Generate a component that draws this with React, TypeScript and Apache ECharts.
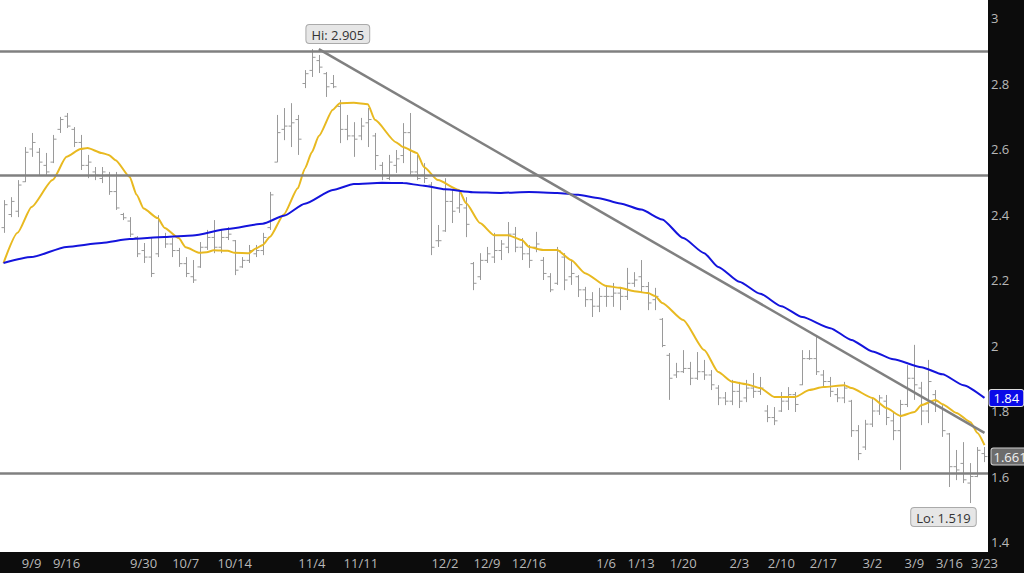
import React, { useEffect, useRef } from 'react';
import * as echarts from 'echarts';

// OHLC bars (one per trading day)
const opens = [
  2.36, 2.40, 2.41, 2.50, 2.60, 2.59, 2.55, 2.56, 2.66, 2.70,
  2.66, 2.62, 2.55, 2.53, 2.51, 2.52, 2.47, 2.40, 2.38, 2.33,
  2.29, 2.27, 2.28, 2.33, 2.31, 2.29, 2.25, 2.21, 2.24, 2.30,
  2.33, 2.30, 2.33, 2.32, 2.24, 2.26, 2.28, 2.29, 2.36, 2.56,
  2.66, 2.67, 2.69, 2.80, 2.84, 2.87, 2.83, 2.80, 2.73, 2.66,
  2.64, 2.64, 2.68, 2.64, 2.55, 2.51, 2.55, 2.58, 2.65, 2.53,
  2.52, 2.49, 2.32, 2.35, 2.44, 2.42, 2.42, 2.25, 2.21, 2.26,
  2.27, 2.29, 2.30, 2.34, 2.30, 2.28, 2.30, 2.26, 2.21, 2.19,
  2.27, 2.21, 2.21, 2.17, 2.14, 2.12, 2.15, 2.15, 2.16, 2.15,
  2.19, 2.21, 2.18, 2.14, 2.08, 1.97, 1.91, 1.92, 1.93, 1.90,
  1.92, 1.91, 1.87, 1.84, 1.83, 1.86, 1.84, 1.87, 1.86, 1.80,
  1.78, 1.80, 1.83, 1.85, 1.88, 1.96, 1.96, 1.91, 1.89, 1.85,
  1.84, 1.83, 1.74, 1.69, 1.76, 1.80, 1.83, 1.77, 1.74, 1.82,
  1.90, 1.87, 1.80, 1.85, 1.81, 1.73, 1.63, 1.64, 1.58, 1.60, 1.67,
];
const closes = [
  2.43, 2.44, 2.49, 2.59, 2.62, 2.56, 2.53, 2.63, 2.69, 2.67,
  2.62, 2.55, 2.56, 2.52, 2.53, 2.47, 2.42, 2.39, 2.34, 2.28,
  2.27, 2.22, 2.33, 2.31, 2.29, 2.25, 2.22, 2.20, 2.30, 2.33,
  2.30, 2.33, 2.34, 2.23, 2.26, 2.29, 2.29, 2.33, 2.46, 2.65,
  2.67, 2.68, 2.63, 2.83, 2.88, 2.85, 2.79, 2.79, 2.66, 2.64,
  2.63, 2.67, 2.69, 2.58, 2.52, 2.56, 2.57, 2.65, 2.53, 2.51,
  2.51, 2.30, 2.32, 2.44, 2.41, 2.43, 2.37, 2.19, 2.26, 2.28,
  2.29, 2.31, 2.34, 2.30, 2.28, 2.26, 2.31, 2.22, 2.17, 2.29,
  2.20, 2.22, 2.17, 2.14, 2.12, 2.15, 2.15, 2.16, 2.15, 2.19,
  2.20, 2.18, 2.13, 2.15, 2.00, 1.90, 1.92, 1.93, 1.90, 1.92,
  1.91, 1.88, 1.84, 1.83, 1.86, 1.83, 1.87, 1.86, 1.87, 1.78,
  1.77, 1.83, 1.85, 1.82, 1.96, 1.96, 1.92, 1.89, 1.86, 1.84,
  1.87, 1.74, 1.67, 1.76, 1.80, 1.84, 1.78, 1.74, 1.82, 1.90,
  1.88, 1.80, 1.89, 1.83, 1.74, 1.63, 1.62, 1.59, 1.60, 1.68, 1.661,
];
const lows = [
  2.344, 2.392, 2.392, 2.499, 2.576, 2.521, 2.521, 2.557, 2.649, 2.664,
  2.606, 2.536, 2.511, 2.505, 2.496, 2.460, 2.414, 2.383, 2.331, 2.270,
  2.252, 2.209, 2.270, 2.298, 2.270, 2.240, 2.209, 2.191, 2.237, 2.292,
  2.282, 2.282, 2.322, 2.215, 2.237, 2.252, 2.270, 2.276, 2.353, 2.560,
  2.627, 2.606, 2.582, 2.786, 2.820, 2.832, 2.759, 2.786, 2.618, 2.627,
  2.576, 2.627, 2.606, 2.536, 2.505, 2.505, 2.527, 2.557, 2.521, 2.505,
  2.496, 2.276, 2.301, 2.347, 2.374, 2.405, 2.331, 2.169, 2.200, 2.252,
  2.252, 2.261, 2.282, 2.285, 2.261, 2.237, 2.285, 2.200, 2.163, 2.185,
  2.169, 2.185, 2.148, 2.118, 2.087, 2.102, 2.118, 2.118, 2.108, 2.139,
  2.179, 2.160, 2.108, 2.108, 1.995, 1.834, 1.901, 1.916, 1.879, 1.895,
  1.895, 1.864, 1.818, 1.818, 1.818, 1.809, 1.827, 1.840, 1.849, 1.766,
  1.757, 1.797, 1.803, 1.797, 1.879, 1.956, 1.910, 1.873, 1.843, 1.827,
  1.824, 1.721, 1.650, 1.681, 1.751, 1.788, 1.757, 1.711, 1.620, 1.812,
  1.834, 1.757, 1.763, 1.797, 1.721, 1.568, 1.589, 1.580, 1.519, 1.598, 1.644,
];
const highs = [
  2.444, 2.453, 2.505, 2.606, 2.649, 2.603, 2.588, 2.643, 2.698, 2.710,
  2.667, 2.643, 2.582, 2.545, 2.545, 2.530, 2.530, 2.405, 2.392, 2.334,
  2.313, 2.328, 2.398, 2.344, 2.328, 2.298, 2.270, 2.261, 2.316, 2.353,
  2.383, 2.353, 2.362, 2.322, 2.270, 2.307, 2.307, 2.344, 2.469, 2.704,
  2.725, 2.740, 2.704, 2.841, 2.905, 2.887, 2.835, 2.826, 2.750, 2.704,
  2.682, 2.695, 2.725, 2.649, 2.560, 2.582, 2.597, 2.679, 2.710, 2.582,
  2.557, 2.499, 2.368, 2.511, 2.475, 2.469, 2.453, 2.255, 2.282, 2.301,
  2.344, 2.322, 2.377, 2.362, 2.328, 2.307, 2.347, 2.270, 2.221, 2.301,
  2.282, 2.261, 2.215, 2.179, 2.163, 2.176, 2.185, 2.191, 2.179, 2.237,
  2.224, 2.261, 2.194, 2.176, 2.084, 1.977, 1.947, 1.986, 1.950, 1.980,
  1.956, 1.925, 1.879, 1.858, 1.895, 1.889, 1.895, 1.916, 1.904, 1.818,
  1.812, 1.858, 1.873, 1.858, 1.986, 1.986, 2.026, 1.925, 1.904, 1.870,
  1.889, 1.834, 1.757, 1.773, 1.840, 1.849, 1.849, 1.797, 1.834, 1.940,
  2.002, 1.889, 1.956, 1.864, 1.818, 1.733, 1.681, 1.705, 1.641, 1.690, 1.690,
];

// moving averages: [bar index, value]
const maFast: [number, number][] = [
  [0, 2.252], [2, 2.344], [4, 2.423], [7, 2.505], [9, 2.576], [11, 2.6], [12, 2.603],
  [14, 2.588], [15, 2.582], [16, 2.566], [18, 2.515], [19, 2.46], [20, 2.418], [22, 2.389],
  [23, 2.359], [25, 2.328], [26, 2.3], [28, 2.283], [29, 2.285], [30, 2.291], [32, 2.289],
  [33, 2.283], [35, 2.282], [36, 2.296], [37, 2.307], [38, 2.331], [40, 2.4], [42, 2.48],
  [43, 2.54], [44, 2.59], [45, 2.64], [47, 2.72], [48, 2.74], [50, 2.741], [52, 2.737],
  [53, 2.689], [56, 2.621], [57, 2.606], [59, 2.588], [60, 2.545], [62, 2.505], [65, 2.475],
  [66, 2.435], [68, 2.374], [70, 2.337], [72, 2.337], [74, 2.322], [75, 2.301], [77, 2.292],
  [79, 2.292], [81, 2.261], [83, 2.221], [86, 2.182], [88, 2.176], [90, 2.166], [92, 2.16],
  [93, 2.151], [94, 2.13], [97, 2.078], [100, 1.986], [102, 1.919], [104, 1.889], [106, 1.882],
  [108, 1.87], [110, 1.843], [113, 1.843], [115, 1.864], [117, 1.873], [120, 1.879],
  [121, 1.87], [124, 1.84], [126, 1.809], [128, 1.785], [130, 1.797], [131, 1.818],
  [133, 1.834], [134, 1.821], [136, 1.794], [138, 1.766], [139, 1.733], [140, 1.696],
];
const maSlow: [number, number][] = [
  [0, 2.252], [4, 2.27], [9, 2.301], [14, 2.313], [18, 2.325], [23, 2.331],
  [27, 2.336], [32, 2.356], [37, 2.372], [40, 2.396], [43, 2.433],
  [47, 2.475], [50, 2.493], [54, 2.497], [57, 2.496], [60, 2.488], [63, 2.477],
  [67, 2.468], [71, 2.466], [75, 2.469], [79, 2.466], [82, 2.46], [85, 2.45],
  [88, 2.434], [91, 2.415], [94, 2.385], [97, 2.328], [100, 2.282], [102, 2.24],
  [105, 2.195], [108, 2.158], [111, 2.12], [114, 2.087], [118, 2.053],
  [121, 2.017], [124, 1.982], [127, 1.958], [131, 1.934], [134, 1.912], [137, 1.879], [140, 1.84],
];

const levels = [2.905, 2.515, 1.615];
const trendStart: [number, number] = [45, 2.905];
const trendEnd: [number, number] = [140, 1.733];
const hiPoint: [number, number] = [44, 2.905];
const loPoint: [number, number] = [138, 1.519];
const slowLast = 1.84;

const yTicks = [1.4, 1.6, 1.8, 2, 2.2, 2.4, 2.6, 2.8, 3];
const dateTicks: [number, string][] = [
  [4, '9/9'], [9, '9/16'], [20, '9/30'], [26, '10/7'], [33, '10/14'], [44, '11/4'],
  [51, '11/11'], [63, '12/2'], [69, '12/9'], [75, '12/16'], [86, '1/6'], [91, '1/13'],
  [97, '1/20'], [105, '2/3'], [111, '2/10'], [117, '2/17'], [124, '3/2'], [130, '3/9'],
  [135, '3/16'], [140, '3/23'],
];

const FONT = '"Open Sans", "Noto Sans", sans-serif';

export default function App() {
  const ref = useRef<HTMLDivElement>(null);
  useEffect(() => {
    document.body.style.margin = '0';
    const chart = echarts.init(ref.current as HTMLDivElement, null, { renderer: 'svg' });
    const n = opens.length;
    const categories = Array.from({ length: n }, (_, i) => String(i));
    const tickMap = new Map<number, string>(dateTicks);
    const ohlc = opens.map((o, i) => [i, o, closes[i], lows[i], highs[i]]);
    const barColor = '#9a9a9a';
    const lastIdx = n - 1;

    const calloutLabel = {
      show: true,
      color: '#333',
      fontSize: 13,
      fontFamily: FONT,
      backgroundColor: '#e6e6e6',
      borderColor: '#aaaaaa',
      borderWidth: 1,
      borderRadius: 3,
      padding: [3, 5, 2, 5],
    };

    const option: any = {
      animation: false,
      backgroundColor: '#0c0c0c',
      grid: {
        left: 0, right: 36, top: 0, bottom: 21,
        show: true, backgroundColor: '#ffffff', borderWidth: 0,
      },
      xAxis: {
        type: 'category',
        data: categories,
        boundaryGap: true,
        axisLine: { show: false },
        axisTick: { show: false },
        splitLine: { show: false },
        axisLabel: {
          interval: (index: number) => tickMap.has(index),
          formatter: (_v: string, index: number) => tickMap.get(index) || '',
          color: '#b8b8b8',
          fontSize: 13,
          fontFamily: FONT,
          margin: 4,
        },
      },
      yAxis: {
        type: 'value',
        position: 'right',
        min: 1.3695,
        max: 3.055,
        axisLine: { show: false },
        axisTick: { show: false },
        splitLine: { show: false },
        axisLabel: {
          customValues: yTicks,
          color: '#b8b8b8',
          fontSize: 13,
          fontFamily: FONT,
          margin: 3,
        },
      },
      series: [
        {
          type: 'custom',
          name: 'price',
          data: ohlc,
          encode: { x: 0, y: [1, 2, 3, 4] },
          renderItem: (_params: any, api: any) => {
            const idx = api.value(0);
            const pH = api.coord([idx, api.value(4)]);
            const pL = api.coord([idx, api.value(3)]);
            const pO = api.coord([idx, api.value(1)]);
            const pC = api.coord([idx, api.value(2)]);
            const x = Math.round(pH[0]) + 0.5;
            const style = { stroke: barColor, lineWidth: 1 };
            return {
              type: 'group',
              children: [
                { type: 'line', shape: { x1: x, y1: pH[1], x2: x, y2: pL[1] }, style },
                { type: 'line', shape: { x1: x - 3, y1: pO[1], x2: x, y2: pO[1] }, style },
                { type: 'line', shape: { x1: x, y1: pC[1], x2: x + 3, y2: pC[1] }, style },
              ],
            };
          },
          markLine: {
            silent: true,
            symbol: ['none', 'none'],
            label: { show: false },
            lineStyle: { color: '#808080', width: 2.5, type: 'solid' },
            data: [
              ...levels.map((v) => ({ yAxis: v })),
              [{ coord: trendStart }, { coord: trendEnd }],
            ],
          },
          markPoint: {
            silent: true,
            symbol: 'circle',
            symbolSize: 0,
            data: [
              {
                coord: hiPoint,
                label: { ...calloutLabel, position: 'top', distance: 6, offset: [26, 0], formatter: `Hi: ${hiPoint[1].toFixed(3)}` },
              },
              {
                coord: loPoint,
                label: { ...calloutLabel, position: 'bottom', distance: 5, offset: [-27, 0], formatter: `Lo: ${loPoint[1].toFixed(3)}` },
              },
              {
                coord: [lastIdx, closes[lastIdx]],
                label: {
                  show: true, position: 'right', distance: 7,
                  formatter: String(closes[lastIdx]),
                  color: '#f2f2f2', fontSize: 13, fontFamily: FONT,
                  backgroundColor: '#6c6c6c', borderColor: '#cfcfcf', borderWidth: 1,
                  borderRadius: 2, padding: [2, 2, 1, 2],
                },
              },
            ],
          },
          z: 2,
        },
        {
          type: 'line',
          name: 'fast',
          data: maFast,
          showSymbol: false,
          smooth: 0.2,
          smoothMonotone: 'x',
          lineStyle: { color: '#e8b920', width: 2 },
          itemStyle: { color: '#e8b920' },
          z: 3,
        },
        {
          type: 'line',
          name: 'slow',
          data: maSlow,
          showSymbol: false,
          smooth: 0.2,
          smoothMonotone: 'x',
          lineStyle: { color: '#1414dc', width: 2 },
          itemStyle: { color: '#1414dc' },
          markPoint: {
            silent: true,
            symbol: 'circle',
            symbolSize: 0,
            data: [
              {
                coord: [lastIdx, slowLast],
                label: {
                  show: true, position: 'right', distance: 5,
                  formatter: String(slowLast),
                  color: '#ffffff', fontSize: 13, fontFamily: FONT,
                  backgroundColor: '#0a0ae8', borderColor: '#dddddd', borderWidth: 1,
                  borderRadius: 2, padding: [2, 4, 1, 4],
                },
              },
            ],
          },
          z: 3,
        },
      ],
    };
    chart.setOption(option);
    return () => chart.dispose();
  }, []);
  return <div ref={ref} style={{ width: 1024, height: 573 }} />;
}
